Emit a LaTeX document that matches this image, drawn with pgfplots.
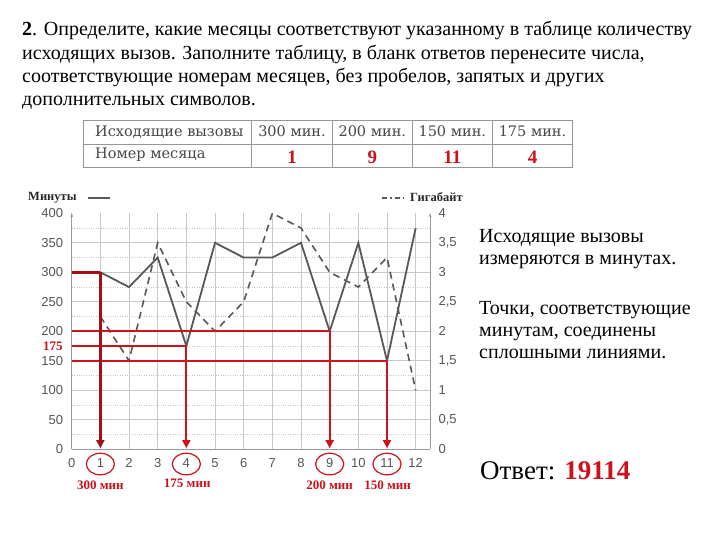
\documentclass[border=0pt]{standalone}
\usepackage{pgfplots}
\pgfplotsset{compat=1.18}
\usepackage{fontspec}
\setmainfont{Liberation Serif}
\newfontfamily\sansf{Liberation Sans}
\newfontfamily\dserif{DejaVu Serif}
\usetikzlibrary{arrows.meta}
\definecolor{ared}{RGB}{205,18,28}
\definecolor{dred}{RGB}{165,14,20}
\definecolor{lgray}{RGB}{88,88,88}
\definecolor{gridc}{RGB}{200,200,200}
\definecolor{tickc}{RGB}{85,85,85}
\definecolor{tabc}{RGB}{70,70,70}
\definecolor{tabline}{RGB}{150,150,150}

\pgfplotstableread{
x min
1 300
2 275
3 325
4 175
5 350
6 325
7 325
8 350
9 200
10 350
11 150
12 375
}\minutes

\pgfplotstableread{
x gb
1 2.25
2 1.5
3 3.5
4 2.5
5 2.0
6 2.5
7 4.0
8 3.75
9 3.0
10 2.75
11 3.25
12 1.0
}\gigabytes

\begin{document}
\begin{tikzpicture}[x=1pt,y=1pt]
\path[use as bounding box, fill=white] (0,0) rectangle (720,540);

% ---- question text
\begin{scope}[every node/.style={anchor=base west, inner sep=0, font=\fontsize{20}{23}\selectfont}]
\node at (22,504) {\textbf{2}. Определите, какие месяцы соответствуют указанному в таблице количеству};
\node at (22,480.7) {исходящих вызов. Заполните таблицу, в бланк ответов перенесите числа,};
\node at (22,457.3) {соответствующие номерам месяцев, без пробелов, запятых и других};
\node at (22,434) {дополнительных символов.};
\end{scope}

% ---- table
\draw[tabline, line width=0.8pt] (83.3,420) rectangle (572.7,373);
\draw[tabline, line width=0.8pt] (83.3,396) -- (572.7,396);
\foreach \xx in {251.7,332.3,412.3,492.3} \draw[tabline, line width=0.8pt] (\xx,420) -- (\xx,373);
\begin{scope}[every node/.style={inner sep=0, font=\dserif\fontsize{14.5}{15}\selectfont, text=tabc}]
\node[anchor=base west] at (95,403.3) {Исходящие вызовы};
\node[anchor=base west] at (95,381) {Номер месяца};
\node[anchor=base] at (292,403.3) {300 мин.};
\node[anchor=base] at (372.3,403.3) {200 мин.};
\node[anchor=base] at (452.3,403.3) {150 мин.};
\node[anchor=base] at (532.5,403.3) {175 мин.};
\end{scope}
\begin{scope}[every node/.style={inner sep=0, anchor=base, font=\bfseries\fontsize{19}{20}\selectfont, text=ared}]
\node at (292,376.7) {1};
\node at (372.3,376.7) {9};
\node at (452.3,376.7) {11};
\node at (532.5,376.7) {4};
\end{scope}

% ---- legend above the chart
\node[anchor=base west, inner sep=0, font=\bfseries\fontsize{12.5}{13}\selectfont, text=black!85] at (28,339) {Минуты};
\draw[lgray, line width=1.4pt] (88,342) -- (110,342);
\draw[lgray, line width=1.2pt, dash pattern=on 5pt off 3pt on 1.5pt off 3pt] (382,342) -- (406,342);
\node[anchor=base west, inner sep=0, font=\bfseries\fontsize{12.5}{13}\selectfont, text=black!85] at (410,338.5) {Гигабайт};

% ---- axis 1: minutes
\begin{axis}[
  at={(71.7pt,90.7pt)}, anchor=south west, scale only axis,
  width=358.3pt, height=236pt,
  xmin=0, xmax=12.5, ymin=0, ymax=400,
  xtick={0,...,12},
  ytick={0,50,...,350}, minor ytick={25,75,...,375},
  extra y ticks={400}, extra y tick style={grid=none},
  grid=both,
  major grid style={gridc, line width=0.8pt},
  minor grid style={gridc, dotted, line width=0.8pt},
  axis x line*=bottom, axis y line*=left,
  axis line style={tickc!60, line width=0.8pt},
  y axis line style={-{Stealth[length=4pt,width=3pt]}},
  major tick length=0pt, minor tick length=0pt,
  tick label style={font=\sansf\fontsize{13}{13}\selectfont, text=tickc},
  xticklabel style={yshift=-5.5pt},
  yticklabel style={xshift=-5pt},
  /pgf/number format/assume math mode=true,
  clip=false,
]
\addplot[lgray, line width=1.8pt] table[x=x, y=min] {\minutes};
\end{axis}

% ---- axis 2: gigabytes
\begin{axis}[
  at={(71.7pt,90.7pt)}, anchor=south west, scale only axis,
  width=358.3pt, height=236pt,
  xmin=0, xmax=12.5, ymin=0, ymax=4,
  axis x line=none, axis y line*=right,
  ytick={0,0.5,...,4},
  axis line style={tickc!60, line width=0.8pt},
  y axis line style={-{Stealth[length=4pt,width=3pt]}},
  major tick length=0pt,
  tick label style={font=\sansf\fontsize{13}{13}\selectfont, text=tickc},
  yticklabel style={xshift=5pt},
  /pgf/number format/.cd, use comma, assume math mode=true,
  /pgfplots/.cd,
  clip=false,
]
\addplot[lgray, line width=1.6pt, dash pattern=on 7pt off 5pt] table[x=x, y=gb] {\gigabytes};
\end{axis}

% ---- axis 3: red annotations
\begin{axis}[
  at={(71.7pt,90.7pt)}, anchor=south west, scale only axis,
  width=358.3pt, height=236pt,
  xmin=0, xmax=12.5, ymin=0, ymax=400,
  hide axis, clip=false,
]
\addplot[dred, line width=2.6pt] coordinates {(0,300) (1,300)};
\addplot[ared, line width=2.2pt] coordinates {(0,200) (9,200)};
\addplot[ared, line width=2.2pt] coordinates {(0,175) (4,175)};
\addplot[ared, line width=2.2pt] coordinates {(0,150) (11,150)};
\addplot[dred, line width=2.6pt, -{Triangle[length=8pt,width=8pt]}] coordinates {(1,300) (1,2)};
\addplot[ared, line width=2.2pt, -{Triangle[length=8pt,width=8pt]}] coordinates {(4,175) (4,2)};
\addplot[ared, line width=2.2pt, -{Triangle[length=8pt,width=8pt]}] coordinates {(9,200) (9,2)};
\addplot[ared, line width=2.2pt, -{Triangle[length=8pt,width=8pt]}] coordinates {(11,150) (11,2)};
\addplot[only marks, mark=o, mark size=10.8pt, ared, mark options={xscale=1.3, line width=1.2pt}] coordinates {(1,-25) (4,-25) (9,-25) (11,-25)};
\node[anchor=east, inner sep=0, text=ared, font=\bfseries\fontsize{13}{13}\selectfont] at (axis cs:-0.31,175) {175};
\begin{scope}[every node/.style={inner sep=0, text=ared, font=\bfseries\fontsize{13}{13}\selectfont}]
\node at (axis cs:1,-60.5) {300 мин};
\node at (axis cs:4.03,-57) {175 мин};
\node at (axis cs:9,-60.5) {200 мин};
\node at (axis cs:11.02,-60.5) {150 мин};
\end{scope}
\end{axis}

% ---- side text
\begin{scope}[every node/.style={anchor=base west, inner sep=0, font=\fontsize{20}{22}\selectfont}]
\node at (479,297.3) {Исходящие вызовы};
\node at (479,275) {измеряются в минутах.};
\node at (479,225) {Точки, соответствующие};
\node at (479,203.3) {минутам, соединены};
\node at (479,181.7) {сплошными линиями.};
\end{scope}
\node[anchor=base west, inner sep=0, font=\fontsize{27}{28}\selectfont] at (480,60.7) {Ответ: \textcolor{ared}{\textbf{19114}}};
\end{tikzpicture}
\end{document}
